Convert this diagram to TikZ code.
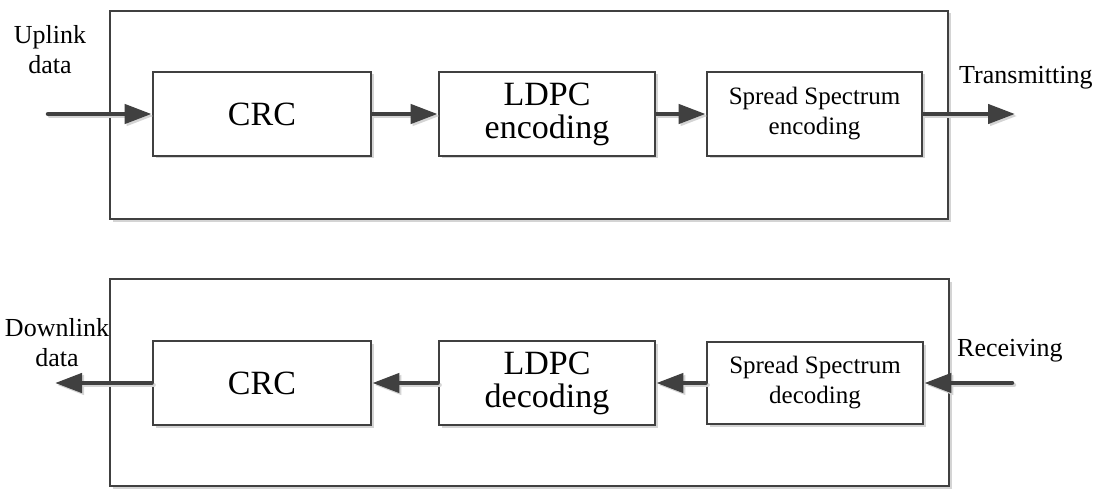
\documentclass[tikz,border=0pt]{standalone}
\usepackage{fontspec}
\setmainfont{Liberation Serif}
\usetikzlibrary{arrows.meta,shadows}
\definecolor{ink}{HTML}{404040}
\definecolor{shade}{HTML}{D4D4D4}
\begin{document}
\begin{tikzpicture}[x=1pt,y=-1pt,
  frame/.style={draw=ink,line width=2.8pt,fill=white,inner sep=0pt,
    drop shadow={shadow xshift=2.5pt,shadow yshift=-2.5pt,fill=shade,opacity=1}},
  block/.style={frame,align=center},
  big/.style={font=\fontsize{34}{33}\selectfont},
  small/.style={font=\fontsize{25}{30}\selectfont},
  label/.style={font=\fontsize{26}{30}\selectfont,align=center,inner sep=0pt},
  flow/.style={draw=ink,line width=4.5pt,line cap=round,
    -{Triangle[length=27pt,width=19pt]}},
  flowshade/.style={flow,draw=shade,transform canvas={shift={(2pt,-2pt)}}}]
\useasboundingbox (0,0) rectangle (1099,489);

% transmit chain
\node[frame,minimum width=838pt,minimum height=208pt] (tx) at (529,115) {};
\node[block,big,minimum width=218pt,minimum height=84pt] (crc1) at (262,114) {CRC};
\node[block,big,minimum width=216pt,minimum height=84pt] (ldpc1) at (547,114) {LDPC\\encoding};
\node[block,small,minimum width=215pt,minimum height=84pt] (ss1) at (814.5,114) {Spread Spectrum\\encoding};

% receive chain
\node[frame,minimum width=839pt,minimum height=207pt] (rx) at (529.5,382.5) {};
\node[block,big,minimum width=218pt,minimum height=84pt] (crc2) at (262,383) {CRC};
\node[block,big,minimum width=216pt,minimum height=84pt] (ldpc2) at (547,383) {LDPC\\decoding};
\node[block,small,minimum width=216pt,minimum height=82pt] (ss2) at (815,383) {Spread Spectrum\\decoding};

% free ends of the outer connectors
\coordinate (in1) at (48,114);
\coordinate (out1) at (1015,114);
\coordinate (in2) at (1012,383);
\coordinate (out2) at (55,383);

% labels
\node[label] (uplink) at (50,50) {Uplink\\data};
\node[label,anchor=base west] (transmit) at (959,84) {Transmitting};
\node[label] (downlink) at (57,343) {Downlink\\data};
\node[label,anchor=base west] (receive) at (957,356) {Receiving};

% connector shadows
\draw[flowshade] (in1) -- (crc1);
\draw[flowshade] (crc1) -- (ldpc1);
\draw[flowshade] (ldpc1) -- (ss1);
\draw[flowshade] (ss1) -- (out1);
\draw[flowshade] (in2) -- (ss2);
\draw[flowshade] (ss2) -- (ldpc2);
\draw[flowshade] (ldpc2) -- (crc2);
\draw[flowshade] (crc2) -- (out2);

% connectors
\draw[flow] (in1) -- (crc1);
\draw[flow] (crc1) -- (ldpc1);
\draw[flow] (ldpc1) -- (ss1);
\draw[flow] (ss1) -- (out1);
\draw[flow] (in2) -- (ss2);
\draw[flow] (ss2) -- (ldpc2);
\draw[flow] (ldpc2) -- (crc2);
\draw[flow] (crc2) -- (out2);
\end{tikzpicture}
\end{document}
